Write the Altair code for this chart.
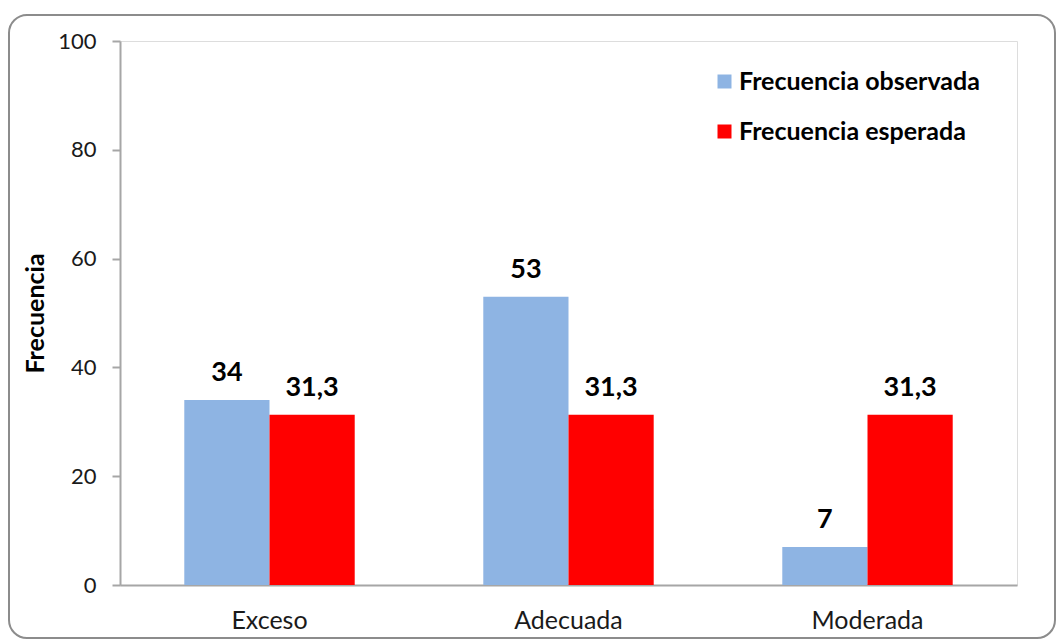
import altair as alt
import pandas as pd

# Chi-square style comparison: observed vs expected frequency per category
categorias = ["Exceso", "Adecuada", "Moderada"]
series = ["Frecuencia observada", "Frecuencia esperada"]
observada = [34, 53, 7]
esperada = [31.3, 31.3, 31.3]
colores = ["#8EB4E3", "#FF0000"]

rows = []
for c, o, e in zip(categorias, observada, esperada):
    rows.append({"categoria": c, "serie": series[0], "valor": o})
    rows.append({"categoria": c, "serie": series[1], "valor": e})
df = pd.DataFrame(rows)

FONT = "Lato"
W, H = 897, 544

base = alt.Chart(df).encode(
    x=alt.X(
        "categoria:N",
        sort=categorias,
        scale=alt.Scale(paddingInner=0.43, paddingOuter=0.215),
        axis=alt.Axis(
            title=None, labelAngle=0, ticks=False, labelFontSize=25,
            labelPadding=23, domainColor="#A6A6A6", domainWidth=2,
            labelColor="#1a1a1a", labelFont=FONT,
        ),
    ),
    xOffset=alt.XOffset("serie:N", sort=series, scale=alt.Scale(paddingInner=0, paddingOuter=0)),
)

bars = base.mark_bar().encode(
    y=alt.Y(
        "valor:Q",
        scale=alt.Scale(domain=[0, 100], nice=False),
        axis=alt.Axis(
            title="Frecuencia", values=[0, 20, 40, 60, 80, 100], grid=False,
            tickSize=8, tickColor="#A6A6A6", tickWidth=2,
            domainColor="#A6A6A6", domainWidth=2,
            labelFontSize=22, labelPadding=16, labelColor="#1a1a1a", labelFont=FONT,
            titleFontSize=25, titleFontWeight="bold", titleFont=FONT, titleColor="#000000",
            titleX=-85, titleY=H / 2, titleBaseline="middle", titleAngle=-90,
        ),
    ),
    color=alt.Color(
        "serie:N",
        sort=series,
        scale=alt.Scale(domain=series, range=colores),
        legend=alt.Legend(
            title=None, orient="none", legendX=592, legendY=28,
            symbolType="square", symbolSize=196, symbolStrokeWidth=0,
            labelFontSize=25, labelFontWeight="bold", labelFont=FONT, labelColor="#000000",
            labelLimit=0, rowPadding=24, labelOffset=2,
        ),
    ),
)

labels = base.mark_text(
    fontSize=27, fontWeight="bold", font=FONT, color="#000000",
    baseline="alphabetic", dy=-19,
).transform_calculate(
    etiqueta="replace(toString(datum.valor), '.', ',')"
).encode(
    y=alt.Y("valor:Q"),
    text=alt.Text("etiqueta:N"),
)

frame = alt.Chart(pd.DataFrame({"k": [0]})).mark_rect(
    fill=None, stroke="#8C8C8C", strokeWidth=2, cornerRadius=18,
).encode(
    x=alt.value(-111), x2=alt.value(935),
    y=alt.value(-26), y2=alt.value(597),
)

chart = alt.layer(frame, bars, labels).properties(
    width=W, height=H,
    autosize=alt.AutoSizeParams(type="none"),
    padding={"left": 120, "top": 41, "right": 39, "bottom": 54},
).configure_view(stroke=None).configure(background="white")

chart.save("out.html", embed_options={"renderer": "svg", "actions": False})
